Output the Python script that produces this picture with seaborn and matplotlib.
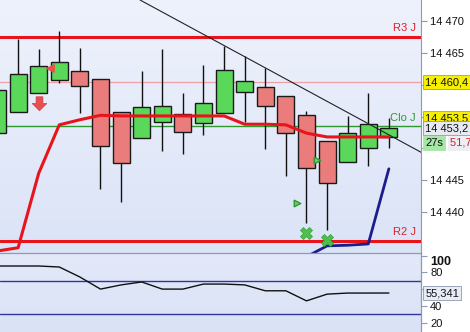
import numpy as np
import pandas as pd
import matplotlib
matplotlib.use("Agg")
import matplotlib.pyplot as plt
import seaborn as sns
from matplotlib.colors import LinearSegmentedColormap
from matplotlib.path import Path
import matplotlib.transforms as mtransforms

# ---------------- data ----------------
idx = list(range(20))
opens = [14452.4, 14455.7, 14458.7, 14460.7, 14462.2, 14460.9, 14455.7, 14451.6, 14454.1, 14455.4,
         14454.0, 14455.6, 14458.9, 14459.6, 14458.2, 14455.2, 14451.2, 14447.9, 14450.1, 14451.8]
closes = [14459.2, 14461.7, 14462.9, 14463.6, 14459.8, 14450.4, 14447.7, 14456.5, 14456.7, 14452.6,
          14457.1, 14462.3, 14460.6, 14456.7, 14452.4, 14446.9, 14444.6, 14452.4, 14453.8, 14453.2]
highs = [14459.2, 14467.2, 14465.6, 14468.4, 14465.8, 14460.9, 14455.7, 14462.2, 14465.6, 14458.7,
         14463.1, 14466.1, 14464.5, 14462.6, 14458.2, 14455.9, 14451.2, 14455.1, 14458.7, 14454.8]
lows = [14452.4, 14455.7, 14458.7, 14460.3, 14455.6, 14443.6, 14441.6, 14451.6, 14449.6, 14449.1,
        14452.1, 14455.6, 14454.1, 14449.9, 14445.7, 14438.3, 14437.2, 14447.9, 14447.2, 14450.1]
ma_line = [14433.9, 14434.4, 14446.1, 14453.7, 14454.5, 14455.2, 14455.1, 14455.1, 14455.1, 14455.1,
           14455.1, 14455.1, 14453.8, 14453.8, 14453.7, 14452.4, 14451.8, 14451.8, 14451.8, 14451.8]
blue_idx = [15, 16, 17, 18, 19]
blue_line = [14433.0, 14434.7, 14434.8, 14435.0, 14446.8]
trend_x = [6.92, 20.56]
trend_y = [14473.3, 14449.4]
osc = [87.5, 87.5, 87.5, 86.3, 74.4, 60.0, 65.0, 68.5, 60.0, 60.0,
       66.0, 66.0, 65.0, 58.0, 58.0, 46.0, 54.0, 55.3, 55.3, 55.341]

r3_level = 14467.5
pivot_level = 14460.4
clo_level = 14453.5
r2_level = 14435.5
last_price = 14453.2
osc_last = 55.341

cross_x = [15, 16]
cross_y = [14436.7, 14435.6]
tri_x = [14.54, 15.5]
tri_y = [14441.4, 14448.2]
red_tri = (2.55, 14462.6)
red_arrow = (2, 14457.1)

price_ticks = [14440, 14445, 14450, 14455, 14460, 14465, 14470]
price_labels = ["14 440", "14 445", "", "", "", "14 465", "14 470"]
osc_ticks = [20, 40, 60, 80, 100]
osc_labels = ["20", "40", "", "80", "100"]
osc_levels = [70, 30]

# ---------------- style ----------------
sns.set_theme(style="white")
plt.rcParams["font.family"] = ["Liberation Sans", "DejaVu Sans"]

fig = plt.figure(figsize=(4.7, 3.32), dpi=100, facecolor="white")
ax = fig.add_axes([0, 79 / 332, 421 / 470, 253 / 332])
ax2 = fig.add_axes([0, 0, 421 / 470, 79 / 332])

XL = (0.121, 20.56)
axis_col = "#8c9bb0"

# gradient backgrounds
grad = np.linspace(0, 1, 256).reshape(-1, 1)
bg1 = LinearSegmentedColormap.from_list("bg1", ["#eef2fc", "#dbe3f7"])
bg2 = LinearSegmentedColormap.from_list("bg2", ["#e3e9f9", "#dae2f6"])
ax.imshow(grad, extent=[0, 1, 0, 1], transform=ax.transAxes, cmap=bg1, aspect="auto", zorder=0)
ax2.imshow(grad, extent=[0, 1, 0, 1], transform=ax2.transAxes, cmap=bg2, aspect="auto", zorder=0)

# level lines
ax.axhline(r3_level, color="#e8141c", lw=2.2, zorder=1)
ax.axhline(pivot_level, color="#f0a0a4", lw=0.9, zorder=1)
ax.axhline(clo_level, color="#2e9a2e", lw=1.0, zorder=1)
ax.axhline(r2_level, color="#e8141c", lw=2.2, zorder=1)

# candles
for i, o, h, l, c in zip(idx, opens, highs, lows, closes):
    ax.vlines(i, l, h, color="#111111", lw=1.0, zorder=2)
    col = "#5ad85a" if c >= o else "#ea7c7c"
    ax.bar(i, abs(c - o), bottom=min(o, c), width=0.83, color=col,
           edgecolor="#1a1a1a", linewidth=1.0, zorder=3)

# lines
sns.lineplot(x=idx, y=ma_line, color="#e8141c", lw=2.2, ax=ax, zorder=4)
sns.lineplot(x=blue_idx, y=blue_line, color="#1c1c8c", lw=2.0, ax=ax, zorder=4)
sns.lineplot(x=trend_x, y=trend_y, color="#222222", lw=0.8, ax=ax, zorder=5)

# markers
sns.scatterplot(x=cross_x, y=cross_y, marker="X", s=75, color="#4cc04c",
                edgecolor="#3aa03a", linewidth=0.5, ax=ax, zorder=6)
sns.scatterplot(x=tri_x, y=tri_y, marker=">", s=22, color="#6ad06a",
                edgecolor="#2a9a2a", linewidth=1.0, ax=ax, zorder=6)
ax.scatter([red_tri[0]], [red_tri[1]], marker="<", s=28, color="#e85050", zorder=6)
arrow_path = Path([(-0.28, 0.55), (0.28, 0.55), (0.28, 0.0), (0.6, 0.0), (0.0, -0.6),
                   (-0.6, 0.0), (-0.28, 0.0), (-0.28, 0.55)])
ax.scatter([red_arrow[0]], [red_arrow[1]], marker=arrow_path, s=110, color="#e85050",
           edgecolor="#d03c3c", linewidth=0.5, zorder=6)

# level labels
lab_x = 20.32
for txt, lvl, col in [("R3 J", r3_level, "#e0202a"), ("Clo J", clo_level, "#2e9a2e"),
                      ("R2 J", r2_level, "#e0202a")]:
    ax.annotate(txt, xy=(lab_x, lvl), xytext=(0, 2.5), textcoords="offset points",
                ha="right", va="bottom", color=col, fontsize=8, zorder=7)

# price axis
ax.set_xlim(*XL)
ax.set_ylim(14433.58, 14473.3)
ax.set_xticks([])
ax.yaxis.tick_right()
ax.set_yticks(price_ticks)
ax.set_yticklabels(price_labels)
ax.tick_params(axis="y", which="both", direction="out", length=4, width=0.8,
               color=axis_col, labelsize=8, pad=2.5, labelcolor="#111111", right=True, left=False)
for s in ["left", "top", "bottom"]:
    ax.spines[s].set_visible(False)
ax.spines["right"].set_color(axis_col)
ax.spines["right"].set_linewidth(0.8)

# price boxes (right side)
trans = mtransforms.blended_transform_factory(ax.transAxes, ax.transData)
def pbox(a, tr, y, txt, fc, ec, tc="#111111", dx=3.0, z=8):
    a.annotate(txt, xy=(1, y), xycoords=tr, xytext=(dx, 0), textcoords="offset points",
               ha="left", va="center", fontsize=8, color=tc, annotation_clip=False, zorder=z,
               bbox=dict(boxstyle="square,pad=0.18", fc=fc, ec=ec, lw=0.6))

pbox(ax, trans, pivot_level, "14 460,4  ", "#f6f000", "#a8a060")
pbox(ax, trans, 14454.75, "14 453,5  ", "#f6f000", "#a8a060", z=8)
pbox(ax, trans, last_price, "14 453,2  ", "#e6e9f2", axis_col, z=9)
pbox(ax, trans, 14450.85, "27s", "#a6e6a6", "#a6e6a6", z=9)
pbox(ax, trans, 14450.85, "51,7  ", "#eceef4", "#eceef4", tc="#d8202a", dx=21, z=9)

# oscillator panel
ax2.axhline(osc_levels[0], color="#34349a", lw=1.0, zorder=1)
ax2.axhline(osc_levels[1], color="#34349a", lw=1.0, zorder=1)
sns.lineplot(x=idx, y=osc, color="#111111", lw=1.0, ax=ax2, zorder=3)
ax2.set_xlim(*XL)
ax2.set_ylim(8.93, 102.98)
ax2.set_xticks([])
ax2.set_xlabel("")
ax2.set_ylabel("")
ax.set_ylabel("")
ax2.yaxis.tick_right()
ax2.set_yticks(osc_ticks)
ax2.set_yticklabels(osc_labels)
ax2.tick_params(axis="y", direction="out", length=4, width=0.8, color=axis_col,
                labelsize=8, pad=2.5, labelcolor="#111111", right=True, left=False)
top_lab = ax2.get_yticklabels()[-1]
top_lab.set_fontweight("bold")
top_lab.set_fontsize(9)
top_lab.set_va("top")
for s in ["left", "bottom"]:
    ax2.spines[s].set_visible(False)
for s in ["right", "top"]:
    ax2.spines[s].set_color(axis_col)
    ax2.spines[s].set_linewidth(0.9)
trans2 = mtransforms.blended_transform_factory(ax2.transAxes, ax2.transData)
pbox(ax2, trans2, osc_last, "55,341", "#e8ecf6", axis_col, z=9)

fig.savefig("out.png", dpi=100, facecolor="white")
